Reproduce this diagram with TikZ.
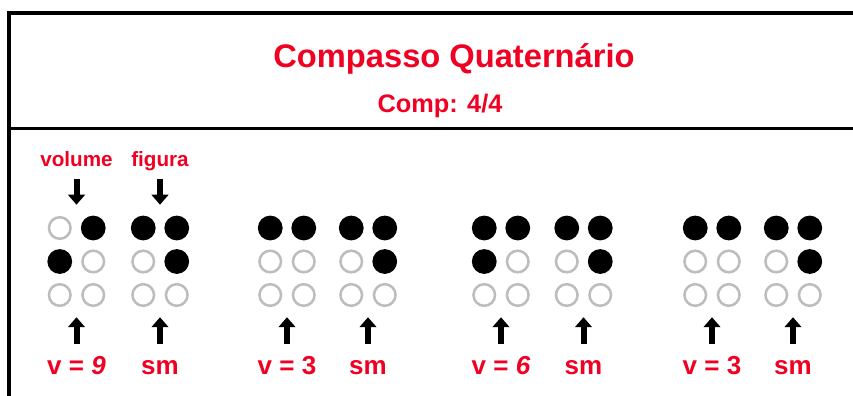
\documentclass[tikz,border=0pt]{standalone}
\usepackage{fontspec}
\setmainfont{Liberation Sans}
\usetikzlibrary{arrows.meta, calc}
\definecolor{tagred}{HTML}{F00022}
\definecolor{dotoff}{HTML}{BDBDBD}
\definecolor{ink}{HTML}{000000}
\tikzset{
  frame/.style={line width=3pt, draw=ink},
  rule/.style={line width=2pt, draw=ink},
  title/.style={font=\fontsize{24.5}{28}\selectfont\bfseries, text=tagred,
                anchor=base, inner sep=0pt},
  subtitle/.style={title, font=\fontsize{19}{22}\selectfont\bfseries},
  toplab/.style={font=\fontsize{15.5}{18}\selectfont\bfseries, text=tagred,
                 anchor=base, inner sep=0pt, text depth=0pt},
  botlab/.style={font=\fontsize{19.5}{22}\selectfont\bfseries, text=tagred,
                 anchor=base, inner sep=0pt, text height=14pt, text depth=0pt},
  cellbox/.style={minimum width=43.5pt, minimum height=69pt, inner sep=0pt},
  dotfull/.style={fill=ink},
  dotempty/.style={draw=dotoff, line width=1.9pt},
  arrow/.style={-{Triangle[length=7.5pt, width=12.5pt]}, line width=4.5pt, draw=ink},
  downarr/.style={arrow, shorten <=9.75pt, shorten >=7.9pt},
  uparr/.style={arrow, shorten <=8.5pt, shorten >=7.1pt},
}
% braille cell: name, x, dots 1..6 (1 = raised)
\newcommand{\bcell}[3]{%
  \node[cellbox] (#1) at (#2,261.5) {};
  \foreach \f [count=\i from 0] in {#3} {
    \pgfmathtruncatemacro{\col}{int(\i/3)}
    \pgfmathtruncatemacro{\row}{mod(\i,3)}
    \ifnum\f=1
      \fill[dotfull] ($(#1.center)+(\col*33.5-16.75,\row*33.5-33.5)$) circle[radius=9.3pt];
    \else
      \draw[dotempty] ($(#1.center)+(\col*33.5-16.75,\row*33.5-33.5)$) circle[radius=8.1pt];
    \fi
  }}

\begin{document}
\begin{tikzpicture}[x=0.75pt, y=-0.75pt]
  \useasboundingbox (0,0) rectangle (853,396);

  % frame
  \draw[frame] (9,398) -- (9,13) -- (855,13);
  \draw[rule] (9,128.5) -- (855,128.5);

  \node[title] (ttl) at (454,67) {Compasso Quaternário};
  \node[subtitle] (sub) at (440,112) {Comp: 4/4};

  % cells
  \bcell{c1}{76.5}{0,1,0,1,0,0}
  \bcell{c2}{160}{1,0,0,1,1,0}
  \bcell{c3}{287}{1,0,0,1,0,0}
  \bcell{c4}{368}{1,0,0,1,1,0}
  \bcell{c5}{501}{1,1,0,1,0,0}
  \bcell{c6}{583.5}{1,0,0,1,1,0}
  \bcell{c7}{712}{1,0,0,1,0,0}
  \bcell{c8}{793}{1,0,0,1,1,0}

  \node[toplab] (vol) at (76.5,166) {volume};
  \node[toplab] (fig) at (160,166) {figura};

  \node[botlab] (v1) at (76.5,374) {v = \textit{9}};
  \node[botlab] (s1) at (160,374) {sm};
  \node[botlab] (v2) at (287,374) {v = 3};
  \node[botlab] (s2) at (368,374) {sm};
  \node[botlab] (v3) at (501,374) {v = \textit{6}};
  \node[botlab] (s3) at (583.5,374) {sm};
  \node[botlab] (v4) at (712,374) {v = 3};
  \node[botlab] (s4) at (793,374) {sm};

  \draw[downarr] (vol) -- (c1);
  \draw[downarr] (fig) -- (c2);

  \draw[uparr] (v1) -- (c1);
  \draw[uparr] (s1) -- (c2);
  \draw[uparr] (v2) -- (c3);
  \draw[uparr] (s2) -- (c4);
  \draw[uparr] (v3) -- (c5);
  \draw[uparr] (s3) -- (c6);
  \draw[uparr] (v4) -- (c7);
  \draw[uparr] (s4) -- (c8);
\end{tikzpicture}
\end{document}
